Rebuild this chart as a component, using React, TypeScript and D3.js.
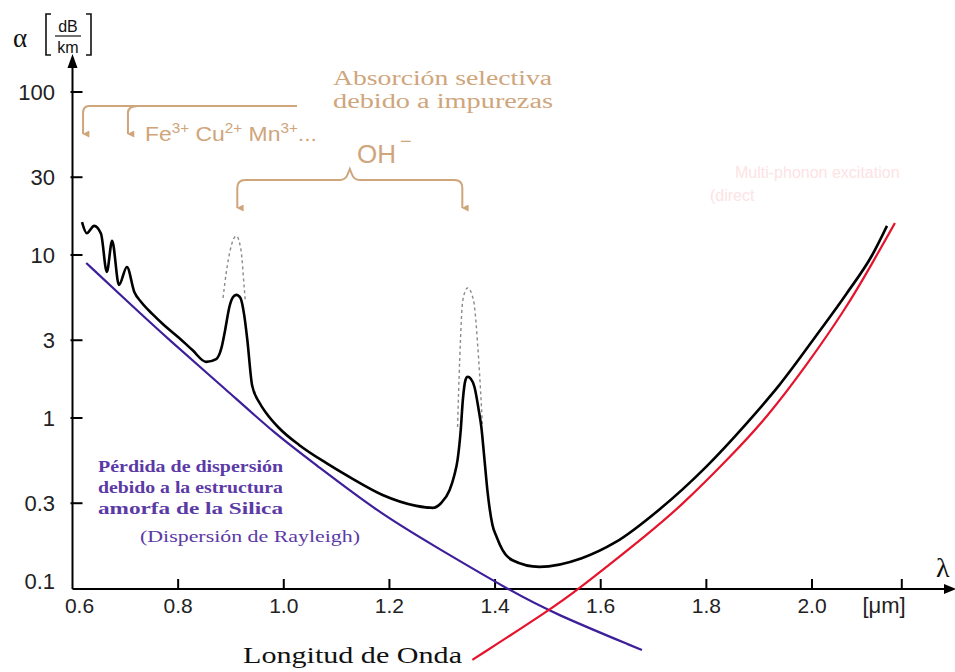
import React from "react";
import * as d3 from "d3";

// total attenuation [wavelength µm, dB/km]
const totalLoss: [number, number][] = [
  [0.618, 15.9], [0.627, 13.6], [0.641, 15.1], [0.654, 13.5], [0.665, 7.87],
  [0.675, 12.2], [0.688, 6.55], [0.703, 8.44], [0.717, 5.93], [0.73, 5.15],
  [0.751, 4.35], [0.773, 3.72], [0.802, 3.1], [0.827, 2.61], [0.853, 2.21],
  [0.872, 2.3], [0.882, 2.69], [0.889, 3.47], [0.897, 4.8], [0.904, 5.52],
  [0.91, 5.69], [0.918, 5.45], [0.925, 4.29], [0.931, 3.01], [0.94, 1.59],
  [0.954, 1.24], [0.967, 1.07], [0.991, 0.868], [1.029, 0.683], [1.08, 0.53],
  [1.124, 0.435], [1.187, 0.337], [1.251, 0.289], [1.282, 0.281], [1.298, 0.301],
  [1.314, 0.362], [1.323, 0.447], [1.329, 0.553], [1.335, 0.844], [1.339, 1.29],
  [1.344, 1.71], [1.348, 1.79], [1.354, 1.74], [1.361, 1.55], [1.369, 1.12],
  [1.374, 0.881], [1.38, 0.553], [1.386, 0.347], [1.395, 0.221], [1.403, 0.186],
  [1.414, 0.155], [1.433, 0.134], [1.484, 0.122], [1.564, 0.138], [1.628, 0.173],
  [1.71, 0.273], [1.799, 0.5], [1.875, 0.918], [1.938, 1.59], [2.013, 3.37],
  [2.065, 5.77], [2.114, 10.0], [2.142, 15.1],
];

// OH- peaks before broadening (dashed)
const ohPeak1: [number, number][] = [
  [0.885, 5.45], [0.891, 7.76], [0.9, 11.2], [0.91, 13.1], [0.919, 10.7], [0.925, 6.37], [0.927, 5.3],
];
const ohPeak2: [number, number][] = [
  [1.329, 0.881], [1.333, 2.27], [1.339, 5.3], [1.348, 6.28], [1.359, 5.3], [1.369, 2.27], [1.376, 0.918],
];

// Rayleigh scattering
const rayleigh: [number, number][] = [
  [0.626, 8.93], [0.701, 5.3], [0.783, 3.01], [0.891, 1.49], [0.986, 0.787],
  [1.054, 0.537], [1.181, 0.261], [1.282, 0.166], [1.433, 0.0856], [1.509, 0.0637], [1.678, 0.0377],
];

// infrared (multi-phonon) absorption
const infrared: [number, number][] = [
  [1.357, 0.0328], [1.509, 0.0683], [1.56, 0.0906], [1.611, 0.122], [1.687, 0.192],
  [1.75, 0.284], [1.845, 0.576], [1.915, 1.01], [1.99, 2.11], [2.066, 4.8],
  [2.11, 8.44], [2.157, 15.7],
];

const yTicks = [0.1, 0.3, 1, 3, 10, 30, 100];
const yTickLabels = ["0.1", "0.3", "1", "3", "10", "30", "100"];
const xTicks = [0.6, 0.8, 1.0, 1.2, 1.4, 1.6, 1.8, 2.0, 2.17];
const xTickLabels = ["0.6", "0.8", "1.0", "1.2", "1.4", "1.6", "1.8", "2.0", ""];

// annotation anchors (wavelength)
const impurityArrows = [0.62, 0.705];
const ohArrows = [0.912, 1.338];

const W = 955;
const H = 672;
const TAN = "#cfa57c";
const PURPLE = "#3d1f9a";

export default function App() {
  const x = d3.scaleLinear().domain([0.6, 2.0]).range([72.5, 812]);
  const y = d3.scaleLog().domain([0.1, 100]).range([581, 92]);
  const axisY = 589;
  const axisX = x(0.6);

  const line = d3
    .line<[number, number]>()
    .x((d) => x(d[0]))
    .y((d) => y(d[1]))
    .curve(d3.curveMonotoneX);
  const smooth = d3
    .line<[number, number]>()
    .x((d) => x(d[0]))
    .y((d) => y(d[1]))
    .curve(d3.curveBasis);

  const bracketY = 106;
  const ohY = 180;
  const ohL = x(ohArrows[0]);
  const ohR = x(ohArrows[1]);
  const ohMid = (ohL + ohR) / 2;

  return (
    <svg
      width={W}
      height={H}
      style={{ position: "absolute", left: 0, top: 0, background: "#fff" }}
      fontFamily="Liberation Sans, Arial, sans-serif"
    >
      <defs>
        <marker id="tanArrow" viewBox="0 0 10 10" refX="5" refY="9" markerWidth="7" markerHeight="8" orient="auto-start-reverse" markerUnits="userSpaceOnUse">
          <path d="M0,0 L10,0 L5,10 Z" fill={TAN} />
        </marker>
      </defs>

      {/* axes */}
      <line x1={axisX} x2={axisX} y1={66} y2={axisY} stroke="#000" strokeWidth={2} />
      <path d={`M${axisX - 5},${68} L${axisX},${54} L${axisX + 5},${68} Z`} fill="#000" />
      <line x1={axisX} x2={952} y1={axisY} y2={axisY} stroke="#000" strokeWidth={2} />
      <path d={`M${944},${axisY - 5} L${956},${axisY} L${944},${axisY + 5} Z`} fill="#000" />

      {yTicks.map((t, i) => (
        <g key={"y" + i}>
          {t > 0.1 && <line x1={axisX - 2} x2={axisX + 10} y1={y(t)} y2={y(t)} stroke="#000" strokeWidth={2} />}
          <text x={55} y={y(t)} dy="0.36em" textAnchor="end" fontSize={22} fill="#222">
            {yTickLabels[i]}
          </text>
        </g>
      ))}
      {xTicks.map((t, i) => (
        <g key={"x" + i}>
          {i > 0 && <line x1={x(t)} x2={x(t)} y1={axisY} y2={axisY - 10} stroke="#000" strokeWidth={2} />}
          <text x={x(t) + (i === 0 ? 7 : 0)} y={613} textAnchor="middle" fontSize={21} fill="#222">
            {xTickLabels[i]}
          </text>
        </g>
      ))}

      {/* axis titles */}
      <text x={13} y={47} fontFamily="Liberation Serif, serif" fontSize={27} fill="#111">α</text>
      <path d="M51,14 L46,14 L46,55 L51,55" fill="none" stroke="#111" strokeWidth={1.6} />
      <path d="M86,14 L91,14 L91,55 L86,55" fill="none" stroke="#111" strokeWidth={1.6} />
      <text x={68} y={32} textAnchor="middle" fontSize={16} fill="#111">dB</text>
      <line x1={55} x2={81} y1={36} y2={36} stroke="#111" strokeWidth={1.2} />
      <text x={68} y={53} textAnchor="middle" fontSize={16} fill="#111">km</text>

      <text x={936} y={577} fontFamily="Liberation Serif, serif" fontSize={28} fill="#111">λ</text>
      <text x={884} y={613} textAnchor="middle" fontSize={22} fill="#222">[μm]</text>
      <text x={243} y={663} fontFamily="Liberation Serif, serif" fontSize={24} textLength={219} lengthAdjust="spacingAndGlyphs" fill="#111">
        Longitud de Onda
      </text>

      {/* curves */}
      <path d={line(ohPeak1) ?? ""} fill="none" stroke="#8a8a8a" strokeWidth={1.4} strokeDasharray="3,3" />
      <path d={line(ohPeak2) ?? ""} fill="none" stroke="#8a8a8a" strokeWidth={1.4} strokeDasharray="3,3" />
      <path d={smooth(rayleigh) ?? ""} fill="none" stroke={PURPLE} strokeWidth={2.2} />
      <path d={smooth(infrared) ?? ""} fill="none" stroke="#e5132b" strokeWidth={2.2} />
      <path d={line(totalLoss) ?? ""} fill="none" stroke="#000" strokeWidth={2.6} strokeLinejoin="round" />

      {/* impurity absorption annotation */}
      <text x={333} y={85} fontFamily="Liberation Serif, serif" fontSize={20} fill={TAN} textLength={219} lengthAdjust="spacingAndGlyphs">
        Absorción selectiva
      </text>
      <text x={333} y={108} fontFamily="Liberation Serif, serif" fontSize={20} fill={TAN} textLength={220} lengthAdjust="spacingAndGlyphs">
        debido a impurezas
      </text>
      <path
        d={`M297,${bracketY} L${x(impurityArrows[0]) + 6},${bracketY} Q${x(impurityArrows[0])},${bracketY} ${x(impurityArrows[0])},${bracketY + 7} L${x(impurityArrows[0])},${bracketY + 28}`}
        fill="none" stroke={TAN} strokeWidth={2} markerEnd="url(#tanArrow)"
      />
      <path
        d={`M${x(impurityArrows[1]) + 10},${bracketY} Q${x(impurityArrows[1])},${bracketY} ${x(impurityArrows[1])},${bracketY + 7} L${x(impurityArrows[1])},${bracketY + 28}`}
        fill="none" stroke={TAN} strokeWidth={2} markerEnd="url(#tanArrow)"
      />
      <text x={145} y={141} fontSize={21} fill={TAN} textLength={172} lengthAdjust="spacingAndGlyphs">
        Fe<tspan fontSize={14} dy={-8}>3+</tspan>
        <tspan dy={8}> Cu</tspan><tspan fontSize={14} dy={-8}>2+</tspan>
        <tspan dy={8}> Mn</tspan><tspan fontSize={14} dy={-8}>3+</tspan>
        <tspan dy={8}>...</tspan>
      </text>

      {/* OH- annotation */}
      <path
        d={`M${ohL},${ohY + 28} L${ohL},${ohY + 8} Q${ohL},${ohY} ${ohL + 8},${ohY} L${ohMid - 10},${ohY} Q${ohMid - 4},${ohY} ${ohMid - 2},${ohY - 6} L${ohMid},${ohY - 11} L${ohMid + 2},${ohY - 6} Q${ohMid + 4},${ohY} ${ohMid + 10},${ohY} L${ohR - 8},${ohY} Q${ohR},${ohY} ${ohR},${ohY + 8} L${ohR},${ohY + 28}`}
        fill="none" stroke={TAN} strokeWidth={2} markerEnd="url(#tanArrow)" markerStart="url(#tanArrow)"
      />
      <text x={357} y={163} fontSize={26} fill={TAN}>OH</text>
      <text x={400} y={148} fontSize={20} fill={TAN}>−</text>

      {/* faint multi-phonon label */}
      <text x={735} y={178} fontSize={16} fill="#fde3e3">Multi-phonon excitation</text>
      <text x={710} y={201} fontSize={16} fill="#fde3e3">(direct</text>

      {/* Rayleigh label */}
      <g fontFamily="Liberation Serif, serif" fontSize={16} fill="#5b3aa6" fontWeight="bold">
        <text x={98} y={472} textLength={185} lengthAdjust="spacingAndGlyphs">Pérdida de dispersión</text>
        <text x={98} y={493} textLength={185} lengthAdjust="spacingAndGlyphs">debido a la estructura</text>
        <text x={98} y={514} textLength={185} lengthAdjust="spacingAndGlyphs">amorfa de la Silica</text>
        <text x={140} y={542} textLength={220} lengthAdjust="spacingAndGlyphs" fontWeight="normal">(Dispersión de Rayleigh)</text>
      </g>
    </svg>
  );
}
